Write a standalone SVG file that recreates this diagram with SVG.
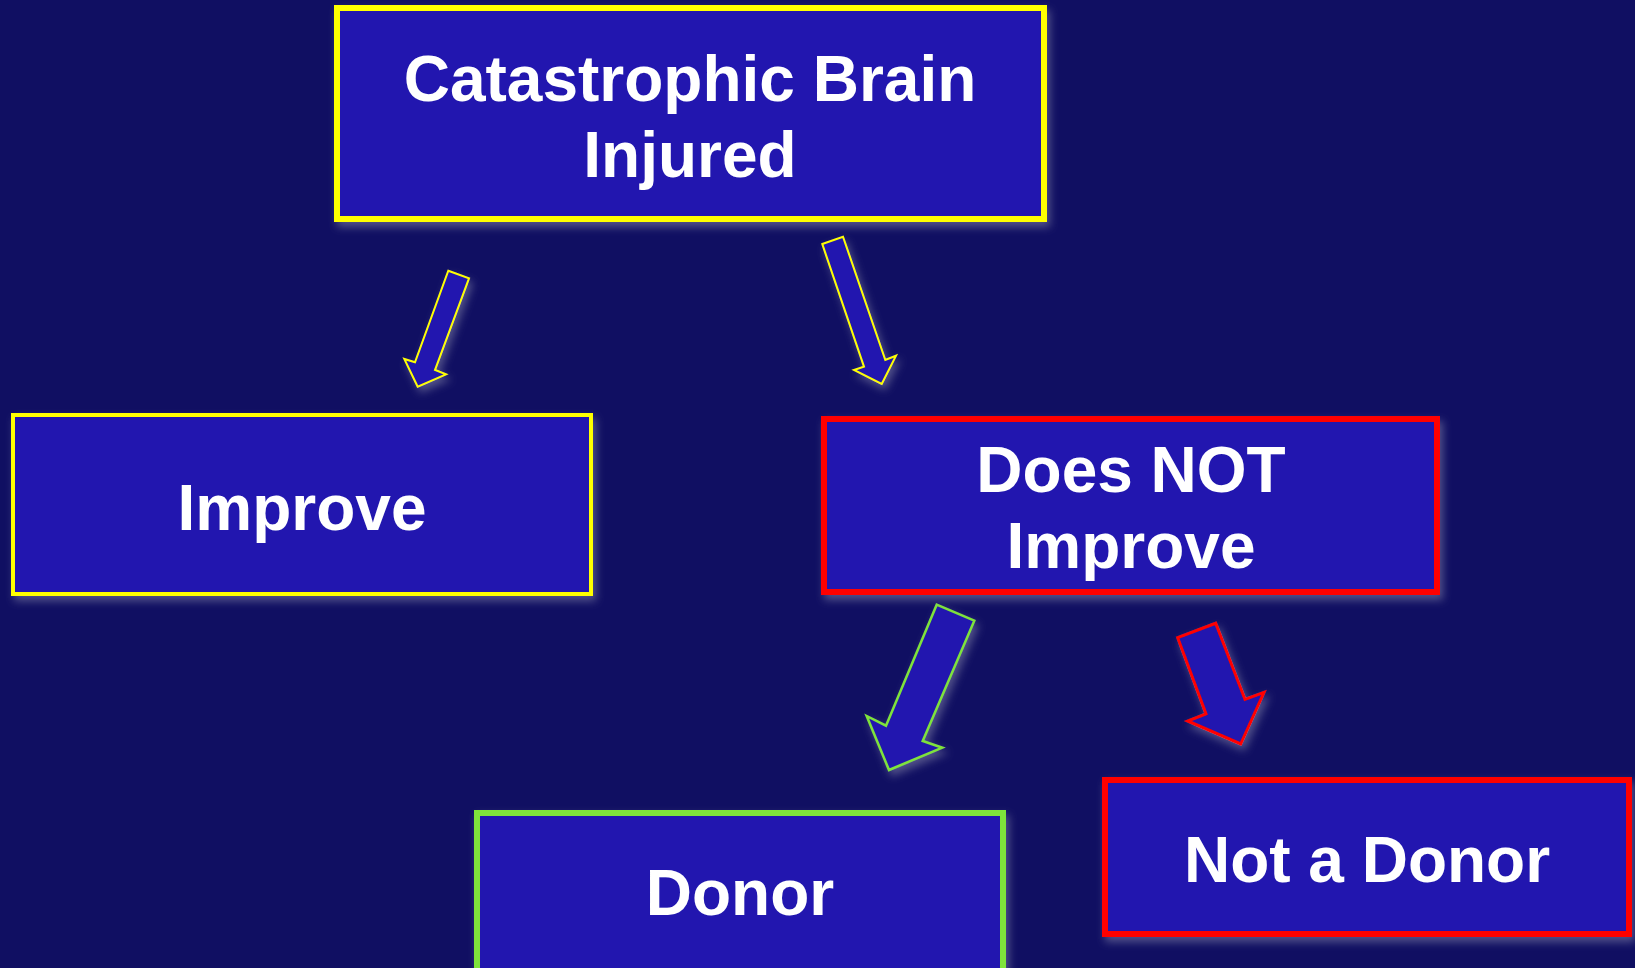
<svg xmlns="http://www.w3.org/2000/svg" width="1635" height="968" viewBox="0 0 1635 968">
<defs>
<style>
.box{fill:#2119AF;}
.lbl{font-family:"Liberation Sans",Arial,sans-serif;font-weight:bold;font-size:64px;fill:#FFFFFF;text-anchor:middle;}
.arr{fill:#2119AF;stroke-linejoin:miter;}
</style>
<filter id="sh" x="-10%" y="-10%" width="125%" height="130%">
<feGaussianBlur in="SourceAlpha" stdDeviation="4" result="b"/>
<feOffset in="b" dx="3" dy="5" result="o"/>
<feFlood flood-color="#8888AA" flood-opacity="0.55"/>
<feComposite in2="o" operator="in" result="s"/>
<feMerge><feMergeNode in="s"/><feMergeNode in="SourceGraphic"/></feMerge>
</filter>
</defs>
<rect x="0" y="0" width="1635" height="968" fill="#100F62"/>
<g id="connectors" filter="url(#sh)">
<polygon class="arr" stroke="#FFFF00" stroke-width="2" points="448.3,270.7 469,278.3 435,370 446,374.3 417.7,386.7 404.3,359 415,362.3"/>
<polygon class="arr" stroke="#FFFF00" stroke-width="2" points="822.3,244 843,236.7 885.3,360 896,355.7 881.7,384 854,370 864,366.7"/>
<polygon class="arr" stroke="#7FE33B" stroke-width="2.5" points="936.7,604.7 974.3,620.7 922.7,741 942.3,747.7 889,770 866.7,716 886,725.7"/>
<polygon class="arr" stroke="#FF0000" stroke-width="3" points="1177.7,637.7 1215.7,623.3 1245,699.3 1264,692.3 1240.7,744 1187.7,721 1206,714"/>
</g>
<g id="n-brain" filter="url(#sh)">
<rect class="box" x="337" y="8" width="707" height="211" stroke="#FFFF00" stroke-width="6"/>
<text class="lbl" x="690" y="101">Catastrophic Brain</text>
<text class="lbl" x="690" y="177">Injured</text>
</g>
<g id="n-improve" filter="url(#sh)">
<rect class="box" x="13" y="415" width="578" height="179" stroke="#FFFF00" stroke-width="4"/>
<text class="lbl" x="302" y="530">Improve</text>
</g>
<g id="n-notimprove" filter="url(#sh)">
<rect class="box" x="824" y="419" width="613" height="173" stroke="#FF0000" stroke-width="6"/>
<text class="lbl" x="1131" y="492">Does NOT</text>
<text class="lbl" x="1131" y="568">Improve</text>
</g>
<g id="n-donor" filter="url(#sh)">
<rect class="box" x="477" y="813" width="526" height="175" stroke="#7FE33B" stroke-width="6"/>
<text class="lbl" x="740" y="915">Donor</text>
</g>
<g id="n-notdonor" filter="url(#sh)">
<rect class="box" x="1105" y="780" width="524" height="154" stroke="#FF0000" stroke-width="6"/>
<text class="lbl" x="1367" y="882">Not a Donor</text>
</g>
</svg>
